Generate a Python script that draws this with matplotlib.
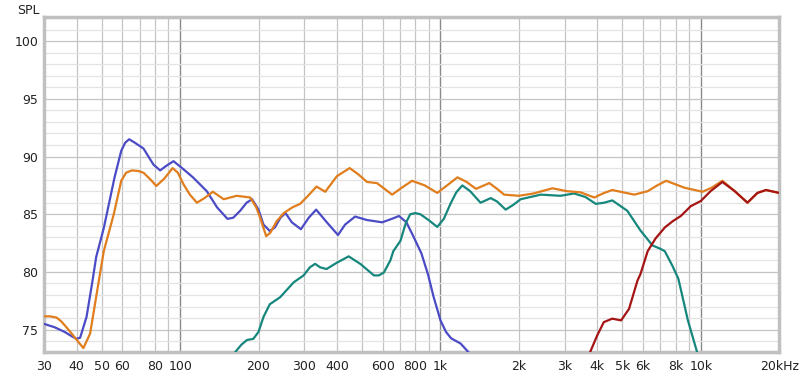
import numpy as np
import matplotlib
matplotlib.use("Agg")
import matplotlib.pyplot as plt
from matplotlib.ticker import FixedLocator, NullFormatter

# woofer (blue)
woofer_f = [30, 33, 36, 38.5, 40, 41.3, 43.7, 45.9, 47.6, 50.9, 56, 59.4, 61.5, 63.7, 67, 72.3, 79, 83.8,
            88.5, 94.3, 103, 112, 126.6, 138.6, 152, 160, 170, 180, 189, 200, 209, 221, 231, 243, 254,
            268.6, 291, 312, 333, 366, 404, 430, 470, 522, 597, 650, 693, 740, 790, 845, 895, 942, 1000,
            1050, 1098, 1194, 1286, 1400]
woofer_db = [75.5, 75.2, 74.8, 74.4, 74.2, 74.3, 76.1, 79.0, 81.3, 83.8, 88.2, 90.5, 91.2, 91.5, 91.2, 90.7,
             89.3, 88.8, 89.2, 89.6, 88.9, 88.2, 87.0, 85.6, 84.6, 84.7, 85.3, 86.0, 86.3, 85.4, 84.1, 83.55,
             83.85, 84.7, 85.1, 84.3, 83.7, 84.7, 85.4, 84.3, 83.2, 84.1, 84.8, 84.5, 84.3, 84.6, 84.85, 84.3,
             83.0, 81.6, 79.8, 77.8, 75.8, 74.8, 74.25, 73.8, 73.0, 71.5]

# mid (teal)
mid_f = [150, 163, 172, 180.6, 191, 200, 209, 221, 242, 273, 298, 315, 330, 345, 365, 400, 444, 492,
         555, 580, 606, 642, 659, 702, 735, 765, 800, 837, 900, 972, 1030, 1092, 1150, 1213, 1300, 1425,
         1560, 1650, 1780, 1900, 2031, 2427, 2890, 3260, 3600, 3950, 4250, 4570, 5220, 5860, 6520, 7000,
         7270, 7790, 8200, 8920, 9670, 10300]
mid_db = [71.5, 73.07, 73.7, 74.1, 74.2, 74.8, 76.1, 77.2, 77.8, 79.1, 79.7, 80.4, 80.7, 80.4, 80.25, 80.8,
          81.35, 80.7, 79.7, 79.7, 79.95, 81.0, 81.8, 82.7, 84.2, 85.0, 85.1, 85.0, 84.5, 83.9, 84.6, 85.9,
          86.9, 87.5, 87.0, 86.0, 86.4, 86.1, 85.4, 85.8, 86.3, 86.7, 86.6, 86.8, 86.5, 85.9, 86.0, 86.2,
          85.3, 83.6, 82.3, 82.0, 81.8, 80.5, 79.4, 75.8, 73.07, 71.0]

# tweeter (red)
tw_f = [3500, 3760, 4000, 4240, 4570, 4940, 5300, 5710, 5860, 6250, 6700, 7270, 7800, 8380, 9150, 10000,
        10900, 12100, 13500, 15100, 16500, 17800, 20000]
tw_db = [71.0, 73.07, 74.5, 75.65, 75.95, 75.8, 76.8, 79.25, 79.8, 81.8, 82.9, 83.85, 84.4, 84.85, 85.7,
         86.15, 87.0, 87.8, 87.0, 86.0, 86.85, 87.1, 86.85]

# sum (orange)
sum_f = [30, 31.6, 33.5, 35, 36.6, 38.5, 40.1, 42.5, 45.1, 47.8, 50.9, 55.6, 59.4, 62, 65.2, 69, 72.3, 77,
         81, 87, 93.6, 98, 103, 109, 116, 124, 133.6, 147, 165, 186, 196, 203, 214, 222, 235, 250, 270,
         289, 310, 334, 361, 400, 448, 484, 522, 570, 610, 652, 710, 778, 870, 972, 1060, 1162, 1260,
         1369, 1540, 1650, 1756, 2000, 2277, 2690, 3060, 3450, 3900, 4200, 4570, 5550, 6250, 6800, 7360,
         8650, 10150, 11000, 12100, 13500, 15100, 16500, 17800, 20000]
sum_db = [76.15, 76.15, 76.05, 75.7, 75.2, 74.6, 74.1, 73.4, 74.65, 78.1, 81.8, 85.0, 87.9, 88.6, 88.8, 88.75,
          88.6, 88.0, 87.45, 88.1, 89.0, 88.6, 87.6, 86.7, 86.0, 86.4, 86.95, 86.3, 86.6, 86.45, 85.6, 84.7,
          83.1, 83.4, 84.4, 85.1, 85.6, 85.9, 86.6, 87.4, 86.95, 88.3, 89.0, 88.45, 87.8, 87.7, 87.2, 86.7,
          87.3, 87.9, 87.5, 86.85, 87.5, 88.2, 87.8, 87.2, 87.7, 87.2, 86.7, 86.6, 86.8, 87.25, 87.0, 86.9,
          86.45, 86.8, 87.1, 86.7, 87.0, 87.5, 87.9, 87.3, 86.95, 87.3, 87.9, 87.0, 86.0, 86.85, 87.1, 86.85]

xticks = [30, 40, 50, 60, 80, 100, 200, 300, 400, 600, 800, 1000, 2000, 3000, 4000, 5000, 6000, 8000, 10000, 20000]
xlabels = ["30", "40", "50", "60", "80", "100", "200", "300", "400", "600", "800", "1k",
           "2k", "3k", "4k", "5k", "6k", "8k", "10k", "20kHz"]
yticks = [75, 80, 85, 90, 95, 100]

fig = plt.figure(figsize=(8, 3.77), dpi=100)
ax = fig.add_axes([0.055, 0.066, 0.919, 0.889])
ax.set_xscale("log")
ax.set_xlim(30, 20000)
ax.set_ylim(73.05, 102.1)

# grid
minor_x = [f * d for d in (10, 100, 1000, 10000) for f in range(1, 10) if 30 <= f * d <= 20000]
for f in minor_x:
    if f in (100, 1000, 10000):
        ax.axvline(f, color="#8a8a8a", lw=1.0, zorder=1)
    else:
        ax.axvline(f, color="#c4c4c4", lw=0.9, zorder=1)
for v in range(74, 103):
    if v % 5 == 0:
        ax.axhline(v, color="#c4c4c4", lw=0.9, zorder=1)
    else:
        ax.axhline(v, color="#e4e4e4", lw=0.9, zorder=1)

kw = dict(lw=1.6, solid_joinstyle="round", solid_capstyle="round")
ax.plot(woofer_f, woofer_db, color="#4b4bc6", zorder=3, **kw)
ax.plot(mid_f, mid_db, color="#16877d", zorder=3, **kw)
ax.plot(tw_f, tw_db, color="#a51515", zorder=4, **kw)
ax.plot(sum_f, sum_db, color="#e07d1c", zorder=3, **kw)

ax.xaxis.set_major_locator(FixedLocator(xticks))
ax.xaxis.set_minor_formatter(NullFormatter())
ax.xaxis.set_minor_locator(FixedLocator([]))
ax.set_xticklabels(xlabels)
ax.set_yticks(yticks)
ax.tick_params(length=0, labelsize=9, colors="#222222", pad=6)
ax.tick_params(axis="y", pad=4)

for s in ax.spines.values():
    s.set_color("#c0c0c0")
    s.set_linewidth(2.5)

fig.text(0.022, 0.99, "SPL", fontsize=9, color="#222222", va="top")

fig.savefig("out.png", dpi=100)
